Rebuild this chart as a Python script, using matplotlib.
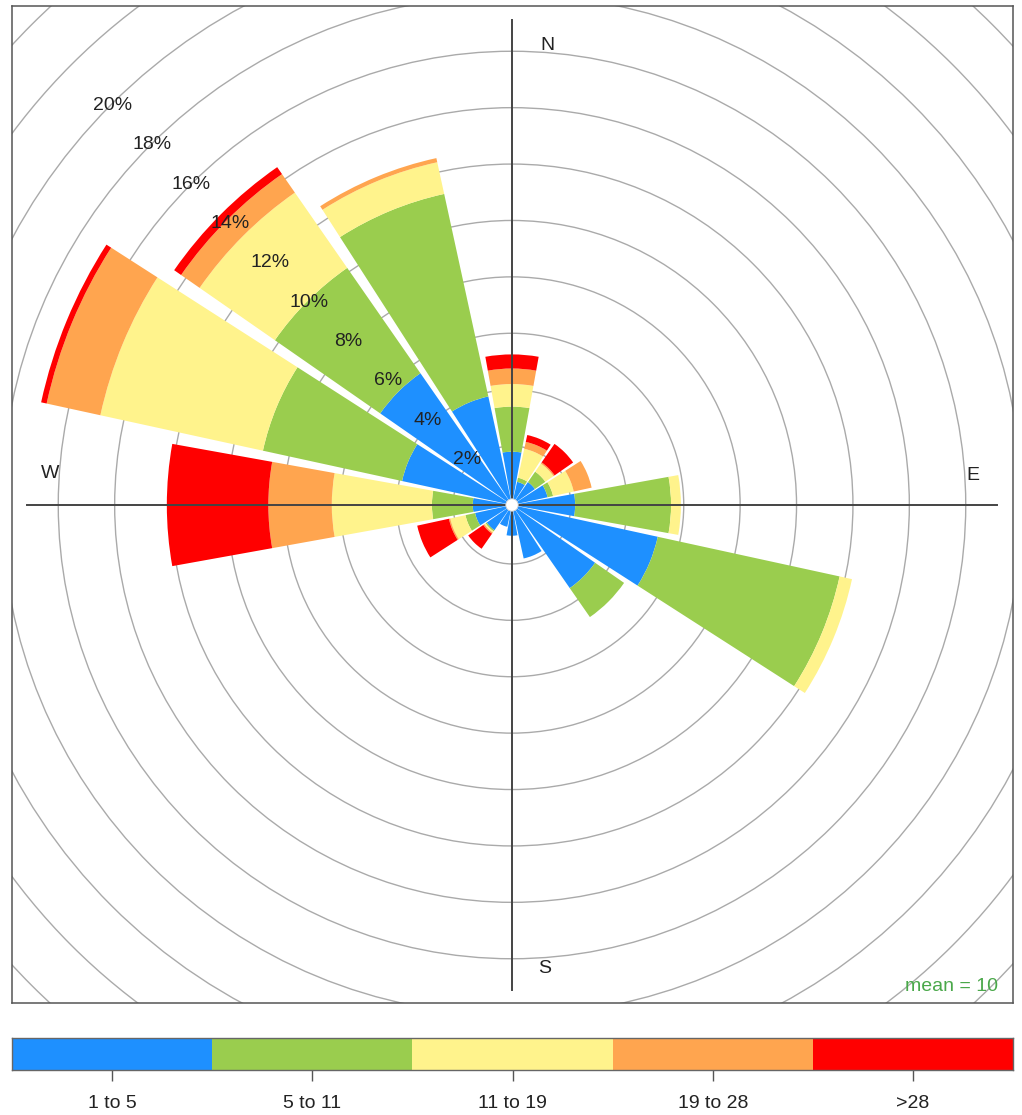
import numpy as np
import matplotlib.pyplot as plt
from matplotlib.patches import Wedge, Circle, Rectangle

plt.rcParams['font.family'] = ['Liberation Sans', 'DejaVu Sans']

# ---- data (percent of time, per wind-speed band) ----
directions = np.arange(0, 360, 22.5)   # N, NNE, ..., NNW
speed_bins = ["1 to 5", "5 to 11", "11 to 19", "19 to 28", ">28"]
colours = ["#1E90FF", "#9ACD4E", "#FFF38C", "#FFA54F", "#FF0000"]

freq_1_5 = [1.8, 0.75, 0.9, 1.2, 2.15, 5.2, 3.5, 1.85, 1.0, 0.7, 1.0, 1.25, 1.3, 3.9, 5.6, 3.85]
freq_5_11 = [1.6, 0.15, 0.45, 0.2, 3.4, 6.6, 1.25, 0, 0, 0, 0.05, 0.35, 1.45, 5.05, 4.55, 7.35]
freq_11_19 = [0.8, 1.05, 0.35, 0.75, 0.35, 0.45, 0, 0, 0, 0, 0.05, 0.55, 3.55, 5.9, 3.25, 1.15]
freq_19_28 = [0.55, 0.25, 0.05, 0.65, 0, 0, 0, 0, 0, 0, 0.05, 0.05, 2.25, 1.95, 0.8, 0.15]
freq_gt28 = [0.5, 0.25, 0.8, 0, 0, 0, 0, 0, 0, 0, 0.65, 1.15, 3.6, 0.2, 0.3, 0]

ring_values = np.arange(2, 32, 2)
label_values = np.arange(2, 22, 2)
mean_speed = 10

# ---- geometry ----
K = 28.2          # pixels per percent
OFF = 0.09        # small offset of bars / rings from the centre
HALF = 10.2       # half width of each bar in degrees

fig = plt.figure(figsize=(10.22, 11.15), dpi=100)
ax = fig.add_axes([12 / 1022, 112 / 1115, 1001 / 1022, 997 / 1115])
ax.set_xlim(-500 / K, 501 / K)
ax.set_ylim(-498 / K, 499 / K)
ax.set_xticks([])
ax.set_yticks([])
for sp in ax.spines.values():
    sp.set_color("#555555")
    sp.set_linewidth(1.1)

# grid circles
for v in ring_values:
    ax.add_patch(Circle((0, 0), OFF + v, fill=False, ec="#aaaaaa", lw=1.0, zorder=1))

# stacked bars
bands = np.array([freq_1_5, freq_5_11, freq_11_19, freq_19_28, freq_gt28])
cum = np.cumsum(bands, axis=0)
for i, d in enumerate(directions):
    theta = 90 - d
    inner = 0.0
    for j in range(len(speed_bins)):
        outer = cum[j, i]
        if outer - inner > 1e-6:
            ax.add_patch(Wedge((0, 0), OFF + outer, theta - HALF, theta + HALF,
                               width=outer - inner, fc=colours[j], ec="none", zorder=2))
        inner = outer

# axis cross
L = 17.2
ax.plot([-L, L], [0, 0], color="#444444", lw=1.4, zorder=3)
ax.plot([0, 0], [-L, L], color="#444444", lw=1.4, zorder=3)
ax.add_patch(Circle((0, 0), 0.22, fc="white", ec="#cccccc", lw=0.6, zorder=4))

# compass labels
ax.text(1.24, 16.31, "N", ha="center", va="center", fontsize=14, color="#222222")
ax.text(16.35, 1.03, "E", ha="center", va="center", fontsize=14, color="#222222")
ax.text(1.17, -16.45, "S", ha="center", va="center", fontsize=14, color="#222222")
ax.text(-16.38, 1.13, "W", ha="center", va="center", fontsize=14, color="#222222")

# percentage labels along 315 degrees
for v in label_values:
    r = 0.987 * v + 0.3
    ax.text(-r * np.sin(np.pi / 4), r * np.cos(np.pi / 4), f"{v}%",
            ha="center", va="center", fontsize=14, color="#222222", zorder=5)

ax.text(17.23, -17.09, f"mean = {mean_speed}", ha="right", va="center",
        fontsize=14, color="#4aa84a")

# ---- speed legend ----
lax = fig.add_axes([12 / 1022, 45 / 1115, 1001 / 1022, 32 / 1115])
for j, c in enumerate(colours):
    lax.add_patch(Rectangle((j, 0), 1, 1, fc=c, ec="none"))
lax.set_xlim(0, len(colours))
lax.set_ylim(0, 1)
lax.set_yticks([])
lax.set_xticks(np.arange(len(speed_bins)) + 0.5)
lax.set_xticklabels(speed_bins, fontsize=14, color="#222222")
lax.tick_params(axis="x", length=8, width=1.0, color="#555555", pad=10)
for sp in lax.spines.values():
    sp.set_color("#666666")
    sp.set_linewidth(1.0)

fig.savefig("out.png", dpi=100)
